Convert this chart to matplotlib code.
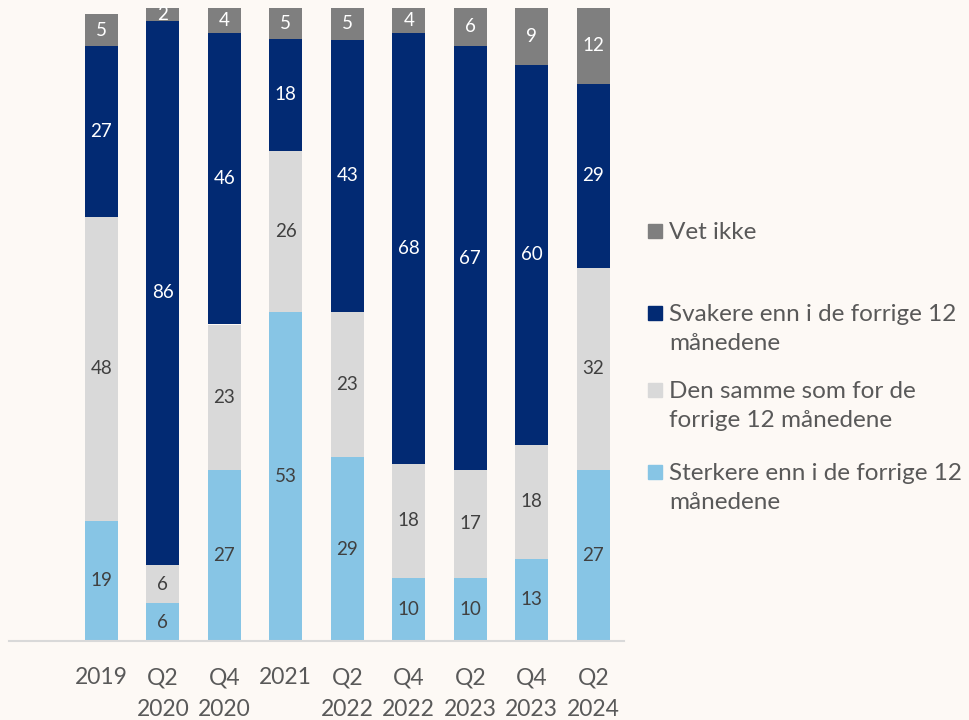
import numpy as np
import matplotlib.pyplot as plt
from matplotlib.patches import Rectangle

plt.rcParams['font.family'] = ['Lato', 'DejaVu Sans']

categories = ['', '2019', 'Q2\n2020', 'Q4\n2020', '2021', 'Q2\n2022',
              'Q4\n2022', 'Q2\n2023', 'Q4\n2023', 'Q2\n2024']
sterkere = [0, 19, 6, 27, 53, 29, 10, 10, 13, 27]
samme = [0, 48, 6, 23, 26, 23, 18, 17, 18, 32]
svakere = [0, 27, 86, 46, 18, 43, 68, 67, 60, 29]
vet_ikke = [0, 5, 2, 4, 5, 5, 4, 6, 9, 12]

series = [
    ('Sterkere enn i de forrige 12\nmånedene', sterkere, '#87C5E5', '#404040'),
    ('Den samme som for de\nforrige 12 månedene', samme, '#D9D9D9', '#404040'),
    ('Svakere enn i de forrige 12\nmånedene', svakere, '#022A73', 'white'),
    ('Vet ikke', vet_ikke, '#7F7F7F', 'white'),
]

bg = '#FDF9F5'
W, H = 969, 720
fig = plt.figure(figsize=(W / 100, H / 100), dpi=100, facecolor=bg)
ax = fig.add_axes([9 / W, 1 - 641 / H, (624 - 9) / W, (641 - 8) / H])
ax.set_facecolor(bg)

x = np.arange(len(categories))
vals = np.array([s[1] for s in series], dtype=float)
totals = vals.sum(axis=0)
# columns that round to more than 100 are scaled back to 100
scale = 100 / np.maximum(totals, 100)
bottom = np.zeros(len(categories))
for label, v, color, tcolor in series:
    h = np.array(v, dtype=float) * scale
    ax.bar(x, h, 0.54, bottom=bottom, color=color, edgecolor='none')
    for xi, hi, bi, vi in zip(x, h, bottom, v):
        if vi > 0:
            ax.text(xi, bi + hi / 2, str(vi), ha='center', va='center',
                    fontsize=13.5, color=tcolor)
    bottom += h

ax.set_xlim(-0.5, len(categories) - 0.5)
ax.set_ylim(0, 100)
ax.set_xticks(x[1:])
ax.set_xticklabels(categories[1:], fontsize=16.5, color='#595959', linespacing=1.6)
ax.tick_params(axis='x', length=0, pad=19)
ax.set_yticks([])
for side in ['top', 'right', 'left']:
    ax.spines[side].set_visible(False)
ax.spines['bottom'].set_color('#D9D9D9')
ax.spines['bottom'].set_linewidth(1.5)

# legend, drawn by hand to match the spacing of the original
legend_y = [231, 313, 390, 472]
for (label, v, color, tcolor), ly in zip(series[::-1], legend_y):
    fig.add_artist(Rectangle((648 / W, 1 - (ly + 7) / H), 14 / W, 14 / H,
                             transform=fig.transFigure, color=color))
    fig.text(669 / W, 1 - (ly - 9) / H, label, fontsize=17.5, color='#595959',
             va='top', ha='left', linespacing=1.45)

fig.savefig('out.png', dpi=100, facecolor=bg)
